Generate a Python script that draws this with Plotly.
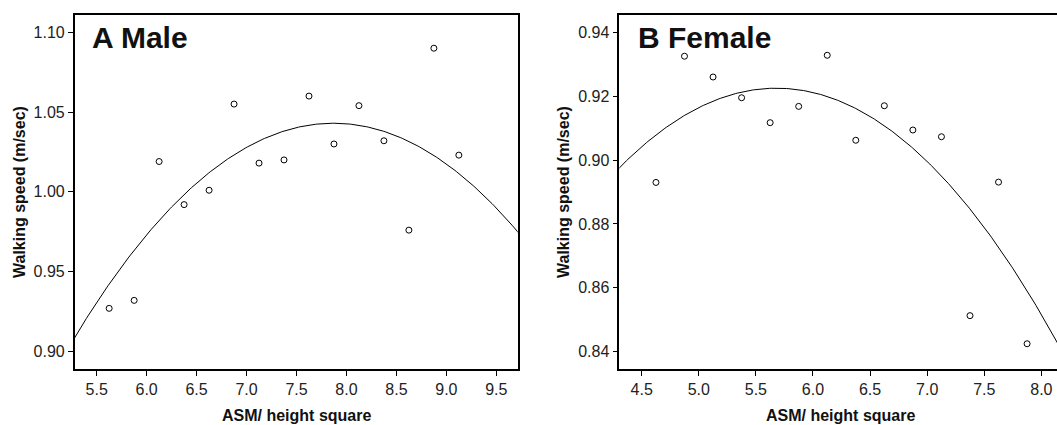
import numpy as np
import plotly.graph_objects as go

# ---- data ----
male_x = [5.625, 5.875, 6.125, 6.375, 6.625, 6.875, 7.125, 7.375, 7.625, 7.875, 8.125, 8.375, 8.625, 8.875, 9.125]
male_y = [0.927, 0.932, 1.019, 0.992, 1.001, 1.055, 1.018, 1.020, 1.060, 1.030, 1.054, 1.032, 0.976, 1.090, 1.023]
female_x = [4.625, 4.875, 5.125, 5.375, 5.625, 5.875, 6.125, 6.375, 6.625, 6.875, 7.125, 7.375, 7.625, 7.875]
female_y = [0.893, 0.9325, 0.926, 0.9195, 0.9117, 0.9168, 0.9328, 0.9062, 0.917, 0.9094, 0.9073, 0.8513, 0.8931, 0.8425]

# quadratic fit curves: y = a*(x-h)^2 + k
male_fit = [-0.0200, 7.87, 1.0430]
female_fit = [-0.01316, 5.68, 0.9225]

male_xrange = [5.28, 9.714]
male_yrange = [0.889, 1.111]
female_xrange = [4.304, 8.137]
female_yrange = [0.8346, 0.9455]

male_yticks = [0.90, 0.95, 1.00, 1.05, 1.10]
female_yticks = [0.84, 0.86, 0.88, 0.90, 0.92, 0.94]
male_xticks = [5.5, 6.0, 6.5, 7.0, 7.5, 8.0, 8.5, 9.0, 9.5]
female_xticks = [4.5, 5.0, 5.5, 6.0, 6.5, 7.0, 7.5, 8.0]

W, H = 1057, 425
FONT = "Liberation Sans, Arial, sans-serif"


def curve(coef, xr):
    a, h, k = coef
    xs = np.linspace(xr[0] - 0.1, xr[1] + 0.1, 300)
    return xs, a * (xs - h) ** 2 + k


fig = go.Figure()

mx, my = curve(male_fit, male_xrange)
fx, fy = curve(female_fit, female_xrange)

fig.add_trace(go.Scatter(x=mx, y=my, mode="lines", line=dict(color="black", width=1),
                         xaxis="x", yaxis="y", showlegend=False, hoverinfo="skip"))
fig.add_trace(go.Scatter(x=male_x, y=male_y, mode="markers",
                         marker=dict(symbol="circle-open", size=6, color="black", line=dict(width=1)),
                         xaxis="x", yaxis="y", showlegend=False))
fig.add_trace(go.Scatter(x=fx, y=fy, mode="lines", line=dict(color="black", width=1),
                         xaxis="x2", yaxis="y2", showlegend=False, hoverinfo="skip"))
fig.add_trace(go.Scatter(x=female_x, y=female_y, mode="markers",
                         marker=dict(symbol="circle-open", size=6, color="black", line=dict(width=1)),
                         xaxis="x2", yaxis="y2", showlegend=False))

ydom = [1 - 369 / H, 1 - 14.7 / H]
x1dom = [74.7 / W, 517.7 / W]
x2dom = [619.3 / W, 1.0]

tickfont = dict(family=FONT, size=16, color="#222")
axcommon = dict(showgrid=False, zeroline=False, ticks="outside", ticklen=5, tickwidth=1,
                tickcolor="black", showline=True, linecolor="black", linewidth=1.5,
                tickfont=tickfont)

fig.update_layout(
    width=W, height=H,
    margin=dict(l=0, r=0, t=0, b=0),
    paper_bgcolor="white", plot_bgcolor="white",
    xaxis=dict(domain=x1dom, range=male_xrange, tickvals=male_xticks,
               ticktext=[f"{v:.1f}" for v in male_xticks], anchor="y", mirror=True, **axcommon),
    yaxis=dict(domain=ydom, range=male_yrange, tickvals=male_yticks,
               ticktext=[f"{v:.2f}" for v in male_yticks], anchor="x", mirror=True, **axcommon),
    xaxis2=dict(domain=x2dom, range=female_xrange, tickvals=female_xticks,
                ticktext=[f"{v:.1f}" for v in female_xticks], anchor="y2", mirror=True, **axcommon),
    yaxis2=dict(domain=ydom, range=female_yrange, tickvals=female_yticks,
                ticktext=[f"{v:.2f}" for v in female_yticks], anchor="x2", mirror=False, **axcommon),
)

ann = []
# panel labels
ann.append(dict(text="<b>A Male</b>", xref="paper", yref="paper", x=90 / W, y=1 - 38 / H,
                xanchor="left", yanchor="middle", showarrow=False,
                font=dict(family=FONT, size=30, color="#111")))
ann.append(dict(text="<b>B Female</b>", xref="paper", yref="paper", x=636.3 / W, y=1 - 38 / H,
                xanchor="left", yanchor="middle", showarrow=False,
                font=dict(family=FONT, size=30, color="#111")))
# axis titles
for cx in (296.2 / W, 840.7 / W):
    ann.append(dict(text="<b>ASM/ height square</b>", xref="paper", yref="paper", x=cx, y=1 - 415 / H,
                    xanchor="center", yanchor="middle", showarrow=False,
                    font=dict(family=FONT, size=16, color="#111")))
for cx in (19 / W, 563 / W):
    ann.append(dict(text="<b>Walking speed (m/sec)</b>", xref="paper", yref="paper", x=cx, y=1 - 192 / H,
                    xanchor="center", yanchor="middle", showarrow=False, textangle=-90,
                    font=dict(family=FONT, size=16, color="#111")))
fig.update_layout(annotations=ann)

fig.write_html("out.html", config={"displayModeBar": False},
               post_script="document.body.style.margin='0';document.body.style.overflow='hidden';")
